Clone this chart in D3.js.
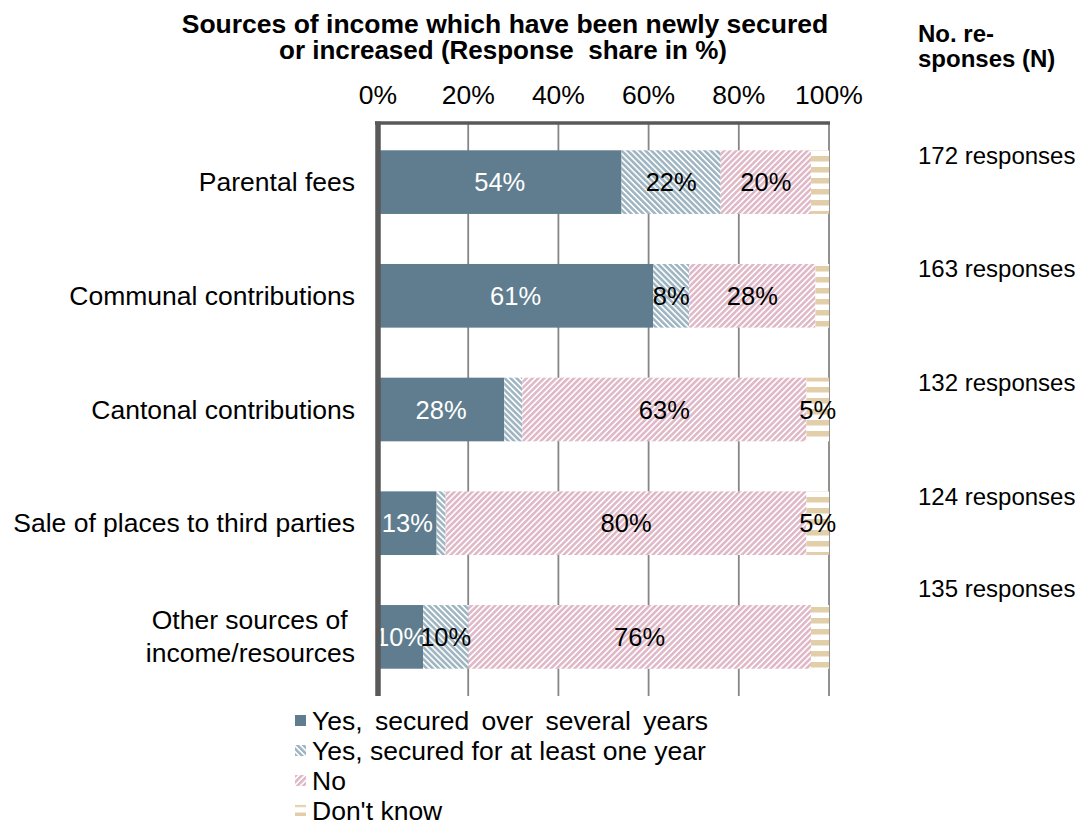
<!DOCTYPE html>
<html>
<head>
<meta charset="utf-8">
<script src="https://cdn.jsdelivr.net/npm/d3@7"></script>
<style>
    body { margin: 0; background: #ffffff; }
    text { font-family: Arial, "Liberation Sans", sans-serif; }
</style>
</head>
<body>
<div id="chart"></div>
<script>
let categories = ['Parental fees', 'Communal contributions', 'Cantonal contributions',
    'Sale of places to third parties', 'Other sources of |income/resources'];
let securedSeveral = [54, 61, 28, 13, 10];
let securedOneYear = [22, 8, 4, 2, 10];
let answeredNo = [20, 28, 63, 80, 76];
let dontKnow = [4, 3, 5, 5, 4];
let responses = ['172 responses', '163 responses', '132 responses', '124 responses', '135 responses'];
let seriesNames = ['Yes, secured over several years', 'Yes, secured for at least one year', 'No', "Don't know"];
let tickValues = [0, 20, 40, 60, 80, 100];

let chartWidth = 1086, chartHeight = 826;
let plotLeft = 378, plotRight = 829, plotTop = 123, plotBottom = 696;
let responseNudge = [0, 0, 0, 0, -22];   // last N label sits higher in the original

let svg = d3.select('#chart').append('svg')
    .attr('width', chartWidth)
    .attr('height', chartHeight);

// patterns, user space so legend keys look like the bars
let defs = svg.append('defs');

function hatch(id, color, angle) {
    let p = defs.append('pattern')
        .attr('id', id)
        .attr('patternUnits', 'userSpaceOnUse')
        .attr('width', 4.2).attr('height', 4.2)
        .attr('patternTransform', 'rotate(' + angle + ')');
    p.append('rect').attr('width', 4.2).attr('height', 4.2).attr('fill', '#ffffff');
    p.append('rect').attr('width', 2.6).attr('height', 4.2).attr('fill', color);
}
hatch('oneYear', '#9fb5c2', -45);
hatch('no', '#dfb9c7', 45);

let stripes = defs.append('pattern')
    .attr('id', 'dontKnow')
    .attr('patternUnits', 'userSpaceOnUse')
    .attr('y', 2)
    .attr('width', 11).attr('height', 11);
stripes.append('rect').attr('width', 11).attr('height', 11).attr('fill', '#ffffff');
stripes.append('rect').attr('width', 11).attr('height', 5.5).attr('fill', '#e2cea9');

let fills = ['#5f7d8e', 'url(#oneYear)', 'url(#no)', 'url(#dontKnow)'];
let labelColors = ['#ffffff', '#000000', '#000000', '#000000'];

let x = d3.scaleLinear().domain([0, 100]).range([plotLeft, plotRight]);
let y = d3.scaleBand().domain(categories).range([plotTop, plotBottom]).paddingInner(0.44).paddingOuter(0.24);

// title
let title = svg.append('text')
    .attr('x', 505).attr('y', 33)
    .attr('text-anchor', 'middle')
    .attr('font-size', 26.5).attr('font-weight', 'bold');
title.append('tspan').attr('x', 505).text('Sources of income which have been newly secured');
title.append('tspan').attr('x', 503).attr('dy', 26).attr('font-size', 26).text('or increased (Response  share in %)')
    .style('white-space', 'pre');

let nTitle = svg.append('text')
    .attr('x', 918).attr('y', 42)
    .attr('font-size', 24).attr('font-weight', 'bold');
nTitle.append('tspan').attr('x', 918).text('No. re-');
nTitle.append('tspan').attr('x', 918).attr('dy', 24.5).text('sponses (N)');

// top tick labels
svg.append('g')
    .selectAll('text')
    .data(tickValues)
    .enter()
    .append('text')
    .attr('x', (d) => x(d))
    .attr('y', 104)
    .attr('text-anchor', 'middle')
    .attr('font-size', 26.5)
    .text((d) => d + '%');

// grid
svg.append('g')
    .selectAll('line')
    .data(tickValues.slice(1))
    .enter()
    .append('line')
    .attr('x1', (d) => x(d)).attr('x2', (d) => x(d))
    .attr('y1', plotTop).attr('y2', plotBottom)
    .attr('stroke', '#868686')
    .attr('stroke-width', 1.8);

// stacked bars
let stack = categories.map((c, i) => {
    let vals = [securedSeveral[i], securedOneYear[i], answeredNo[i], dontKnow[i]];
    let acc = 0;
    return vals.map((v, k) => {
        let seg = {cat: c, k: k, x0: acc, x1: acc + v, v: v};
        acc += v;
        return seg;
    });
});
let segments = stack.flat();

svg.append('g')
    .selectAll('rect')
    .data(segments)
    .enter()
    .append('rect')
    .attr('x', (s) => x(s.x0))
    .attr('y', (s) => y(s.cat))
    .attr('width', (s) => x(s.x1) - x(s.x0))
    .attr('height', y.bandwidth())
    .attr('fill', (s) => fills[s.k]);

svg.append('g')
    .selectAll('text')
    .data(segments.filter((s) => s.v >= 5))
    .enter()
    .append('text')
    .attr('x', (s) => (x(s.x0) + x(s.x1)) / 2)
    .attr('y', (s) => y(s.cat) + y.bandwidth() / 2 + 9)
    .attr('text-anchor', 'middle')
    .attr('font-size', 25.5)
    .attr('fill', (s) => labelColors[s.k])
    .text((s) => s.v + '%');

// axis frame
svg.append('line')
    .attr('x1', plotLeft - 3).attr('x2', plotRight + 1)
    .attr('y1', plotTop).attr('y2', plotTop)
    .attr('stroke', '#595959').attr('stroke-width', 3.5);
svg.append('line')
    .attr('x1', plotLeft).attr('x2', plotLeft)
    .attr('y1', plotTop - 1.5).attr('y2', plotBottom)
    .attr('stroke', '#595959').attr('stroke-width', 5.5);

// category labels
let catLabels = svg.append('g')
    .selectAll('text')
    .data(categories)
    .enter()
    .append('text')
    .attr('x', 355)
    .attr('y', (c) => y(c) + y.bandwidth() / 2 + 9)
    .attr('text-anchor', 'end')
    .attr('font-size', 26.5)
    .style('white-space', 'pre');

catLabels.each(function (c) {
    let lines = c.split('|');
    let t = d3.select(this);
    if (lines.length > 1) t.attr('y', +t.attr('y') - 16.5);
    lines.forEach((l, i) => {
        t.append('tspan').attr('x', 355).attr('dy', i === 0 ? 0 : 33).text(l);
    });
});

// N responses
svg.append('g')
    .selectAll('text')
    .data(responses)
    .enter()
    .append('text')
    .attr('x', 918)
    .attr('y', (r, i) => y(categories[i]) + 13.5 + responseNudge[i])
    .attr('font-size', 24)
    .text((r) => r);

// legend
let legend = svg.append('g')
    .selectAll('g')
    .data(seriesNames)
    .enter()
    .append('g')
    .attr('transform', (d, i) => 'translate(295,' + (720.5 + i * 30) + ')');

legend.append('rect')
    .attr('x', 0).attr('y', -5.5)
    .attr('width', 11).attr('height', 11)
    .attr('fill', (d, i) => fills[i]);

legend.append('text')
    .attr('x', 17).attr('y', 9)
    .attr('font-size', 26.5)
    .style('word-spacing', (d, i) => i === 0 ? '5px' : '0px')
    .text((d) => d);
</script>
</body>
</html>
